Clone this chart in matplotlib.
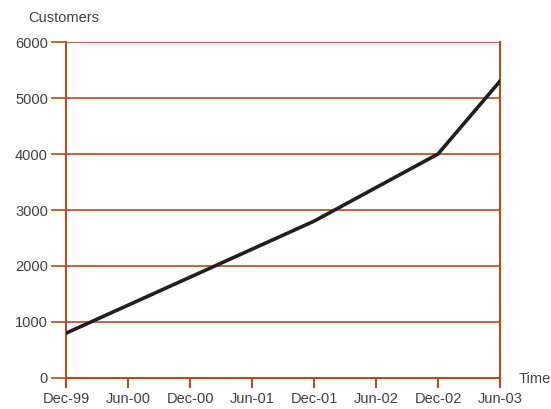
import matplotlib.pyplot as plt

plt.rcParams['font.family'] = ['Liberation Sans', 'DejaVu Sans']

dates = ['Dec-99', 'Jun-00', 'Dec-00', 'Jun-01', 'Dec-01', 'Jun-02', 'Dec-02', 'Jun-03']
customers = [800, 1300, 1800, 2300, 2800, 3400, 4000, 5300]
yticks = [0, 1000, 2000, 3000, 4000, 5000, 6000]

brown = '#B04E1C'
txt = '#404040'

fig = plt.figure(figsize=(5.51, 4.09), dpi=100)
ax = fig.add_axes([0.1198, 0.0758, 0.7876, 0.8215])

ax.plot(range(len(dates)), customers, color='#231F20', lw=2.6, solid_joinstyle='miter', zorder=3)

ax.set_xlim(0, len(dates) - 1)
ax.set_ylim(0, 6000)
ax.set_xticks(range(len(dates)))
ax.set_xticklabels(dates)
ax.set_yticks(yticks)
ax.set_yticklabels([str(v) for v in yticks])

ax.grid(axis='y', color=brown, lw=1.2)
ax.set_axisbelow(True)
for s in ['left', 'right', 'bottom']:
    ax.spines[s].set_color(brown)
    ax.spines[s].set_linewidth(1.5)
ax.spines['top'].set_visible(False)

ax.tick_params(axis='y', length=11, width=1.2, color=brown, labelsize=10.5, labelcolor=txt, pad=2)
ax.tick_params(axis='x', length=7, width=1.5, color=brown, labelsize=10.5, labelcolor=txt, pad=3)

fig.text(28 / 551, 1 - 18 / 409, 'Customers', fontsize=10.5, color=txt, va='center', ha='left')
fig.text(519 / 551, 1 - 379 / 409, 'Time', fontsize=10.5, color=txt, va='center', ha='left')

plt.savefig('out.png', dpi=100)
